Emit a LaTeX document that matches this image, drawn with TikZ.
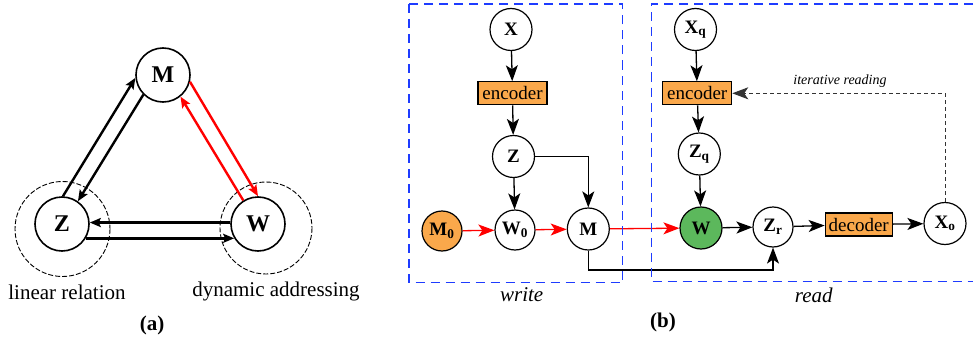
\documentclass[tikz,border=0pt]{standalone}
\usepackage{fontspec}
\setmainfont{Liberation Serif}
\usetikzlibrary{arrows.meta}
\definecolor{boxorange}{RGB}{250,168,75}
\definecolor{nodegreen}{RGB}{92,184,92}
\definecolor{frameblue}{RGB}{30,60,255}
\tikzset{
  anode/.style={circle, draw, line width=1.6pt, fill=white, minimum size=54pt,
    inner sep=0pt, font=\fontsize{24}{26}\selectfont\bfseries},
  ring/.style={draw, line width=0.9pt, dash pattern=on 5pt off 2pt},
  athick/.style={line width=2.4pt, -{Stealth[length=11pt,width=9pt,inset=2pt]}},
  bnode/.style={circle, draw, line width=1.2pt, fill=white, minimum size=42pt,
    inner sep=0pt, font=\fontsize{19}{21}\selectfont\bfseries},
  coder/.style={rectangle, draw, line width=1.1pt, fill=boxorange, minimum width=69pt,
    minimum height=23pt, inner sep=0pt, font=\fontsize{19}{21}\selectfont},
  barrow/.style={line width=1.3pt, -{Stealth[length=16pt,width=12pt,inset=4pt]}},
  bluedash/.style={draw=frameblue, line width=1.6pt, dash pattern=on 9pt off 6pt},
  caption/.style={font=\fontsize{21}{23}\selectfont},
  tag/.style={font=\fontsize{21}{23}\selectfont\bfseries},
}
\begin{document}
\begin{tikzpicture}[x=1pt,y=-1pt]
\useasboundingbox (0,0) rectangle (974,337);

% ---------- (a) triangle of M, Z, W ----------
\draw[ring] (62.5,229) circle[radius=47.5];
\draw[ring] (266,228) circle[radius=46];

\node[anode] (aM) at (163,75) {M};
\node[anode] (aZ) at (62,224) {Z};
\node[anode] (aW) at (258,224) {W};

\draw[athick] (aZ.88) -- (aM.186);
\draw[athick] (aM.225) -- (aZ.55);
\draw[athick, red] (aM.-14) -- (aW.90);
\draw[athick, red] (aW.122) -- (aM.-51);
\draw[athick] (aW.177) -- (aZ.3);
\draw[athick] (aZ.-31) -- (aW.211);

\node[caption] (linrel) at (67,292) {linear relation};
\node[caption] (dynaddr) at (276,291) {dynamic addressing};
\node[tag] (capa) at (152,325) {(a)};

% ---------- (b) write / read pipeline ----------
% write branch
\node[bnode] (X) at (511,29.5) {X};
\node[coder] (encw) at (512.5,93.3) {encoder};
\node[bnode] (Zw) at (513.5,156.5) {Z};
\node[bnode, minimum size=40pt] (W0) at (515,230) {W\textsubscript{0}};
\node[bnode, minimum size=40pt, fill=boxorange] (M0) at (442,231) {M\textsubscript{0}};
\node[bnode] (Mw) at (588.3,229) {M};

% read branch
\node[bnode] (Xq) at (695.5,29.5) {X\textsubscript{q}};
\node[coder] (encr) at (697.2,93.3) {encoder};
\node[bnode] (Zq) at (699.3,154) {Z\textsubscript{q}};
\node[bnode, fill=nodegreen] (Wr) at (701,228) {W};
\node[bnode, minimum size=40pt] (Zr) at (773,227) {Z\textsubscript{r}};
\node[coder, minimum width=67pt] (dec) at (858.7,224.5) {decoder};
\node[bnode] (Xo) at (945,223.5) {X\textsubscript{o}};

\coordinate (rail) at (0,270);

\draw[barrow] (X) -- (encw);
\draw[barrow] (encw) -- (Zw);
\draw[barrow] (Zw) -- (W0);
\draw[barrow] (Zw.east) -| (Mw.north);
\draw[barrow, red] (M0) -- (W0);
\draw[barrow, red] (W0) -- (Mw);
\draw[barrow, red] (Mw) -- (Wr);
\draw[barrow] (Mw.south) -- (Mw.south |- rail) -| (Zr.south);

\draw[barrow] (Xq) -- (encr);
\draw[barrow] (encr) -- (Zq);
\draw[barrow] (Zq) -- (Wr);
\draw[barrow] (Wr) -- (Zr);
\draw[barrow] (Zr) -- (dec);
\draw[barrow] (dec) -- (Xo);
\draw[barrow, black!80, line width=1pt, dash pattern=on 4pt off 3pt]
  (Xo.north) |- (encr.east);

% dashed frames of the write and read stages (the read one runs off the right edge)
\draw[bluedash] (409,4) rectangle (622.5,282.5);
\draw[bluedash] (973,4) -- (651.5,4) -- (651.5,281.5) -- (973,281.5);

\node[font=\fontsize{14}{16}\selectfont\itshape] (iter) at (840,81.5) {iterative reading};
\node[font=\fontsize{21}{23}\selectfont\itshape] (wlabel) at (521.7,295) {write};
\node[font=\fontsize{21}{23}\selectfont\itshape] (rlabel) at (813.8,295) {read};
\node[tag] (capb) at (663,322) {(b)};
\end{tikzpicture}
\end{document}
